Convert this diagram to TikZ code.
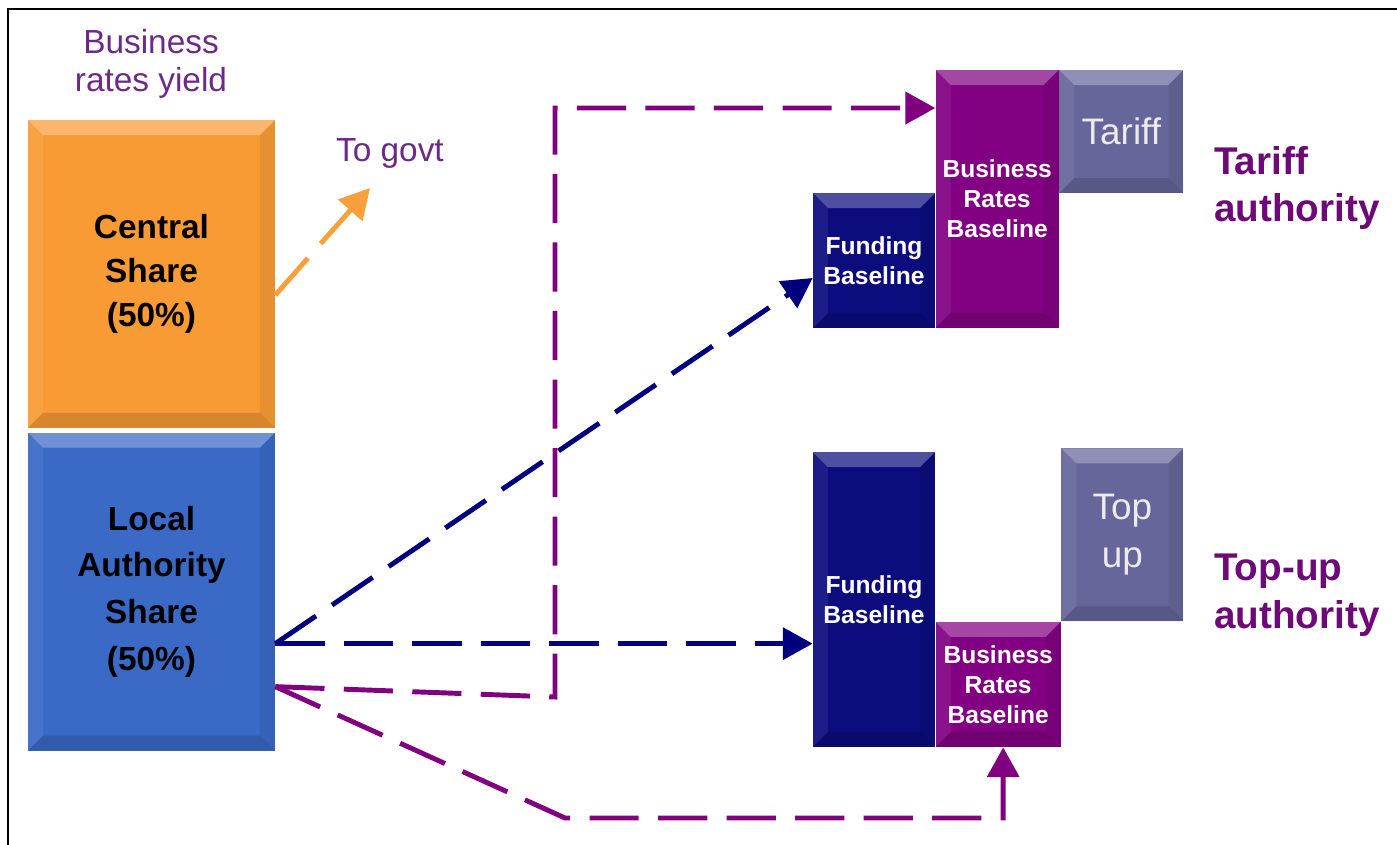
\documentclass[tikz,border=0pt]{standalone}
\usepackage{fontspec}
\setmainfont{Liberation Sans}
\usetikzlibrary{arrows.meta,positioning}

\definecolor{csorange}{HTML}{F99B35}
\definecolor{lablue}{HTML}{3A69C6}
\definecolor{fbnavy}{HTML}{0C0C7E}
\definecolor{brpurple}{HTML}{820082}
\definecolor{tgrey}{HTML}{66669A}
\definecolor{txtpurple}{HTML}{6C2A88}
\definecolor{hdpurple}{HTML}{6E0A78}
\definecolor{arrnavy}{HTML}{00007F}
\definecolor{arrpurple}{HTML}{800080}
\definecolor{arrorange}{HTML}{F9A03C}

\begin{document}
\begin{tikzpicture}[%
    ,x=0.02cm,y={(0cm,-0.02cm)}
    ,>={Triangle[length=17pt,width=18pt]}
    ,bevel/.style = {%
        ,path picture={%
            \coordinate (pnw) at (path picture bounding box.north west);
            \coordinate (pse) at (path picture bounding box.south east);
            \fill[white,opacity=.28] (pnw) -- (pnw-|pse) -- ([shift={(-3mm,-3mm)}]pnw-|pse) -- ([shift={(3mm,-3mm)}]pnw) -- cycle;
            \fill[black,opacity=.13] (pse) -- (pse-|pnw) -- ([shift={(3mm,3mm)}]pse-|pnw) -- ([shift={(-3mm,3mm)}]pse) -- cycle;
            \fill[white,opacity=.07] (pnw) -- ([shift={(3mm,-3mm)}]pnw) -- ([shift={(3mm,3mm)}]pse-|pnw) -- (pse-|pnw) -- cycle;
            \fill[black,opacity=.07] (pnw-|pse) -- ([shift={(-3mm,-3mm)}]pnw-|pse) -- ([shift={(-3mm,3mm)}]pse) -- (pse) -- cycle;
            }
        }
    ,share/.style = {%
        ,bevel
        ,minimum width=4.94cm
        ,inner sep=0pt
        ,align=center
        ,font=\bfseries\fontsize{19}{25}\selectfont
        }
    ,box/.style = {%
        ,bevel
        ,minimum width=2.44cm
        ,inner sep=0pt
        ,align=center
        ,text=white
        ,font=\bfseries\fontsize{14}{17}\selectfont
        }
    ,fb/.style = {box, fill=fbnavy}
    ,br/.style = {box, fill=brpurple}
    ,tt/.style = {box, fill=tgrey, text=white!92!black, font=\fontsize{21}{27}\selectfont}
    ,auth/.style = {anchor=west, align=left, text=hdpurple, font=\bfseries\fontsize{22}{27}\selectfont}
    ,lbl/.style = {align=center, text=txtpurple, font=\fontsize{19}{22}\selectfont}
    ,flow/.style = {->, line width=2.8pt, dash pattern=on 28pt off 11pt}
    ]
\useasboundingbox (0,0) rectangle (1397,845);
\draw[line width=1.3pt] (8,845) -- (8,9) -- (1397,9);

% Business rates yield
\node (bry) [lbl] at (151,64) {Business\\rates yield};
\node (cs) [share, fill=csorange, minimum height=6.16cm] at (151.5,274) {Central\\Share\\(50\%)};
\node (las) [share, fill=lablue, minimum height=6.36cm, font=\bfseries\fontsize{19}{26.5}\selectfont, below=0.08cm of cs] {Local\\Authority\\Share\\(50\%)};
\node (govt) [lbl] at (390,153) {To govt};
\coordinate (govtin) at (370,188);

% Tariff authority
\node (tfb) [fb, minimum height=2.7cm] at (874,260.5) {Funding\\Baseline};
\node (tbr) [br, minimum width=2.46cm, minimum height=5.16cm, above right=0pt and 0pt of tfb.south east] {Business\\Rates\\Baseline};
\node (tar) [tt, minimum width=2.48cm, minimum height=2.46cm, below right=0pt and 0pt of tbr.north east] {Tariff};
\node (ta) [auth] at (1208,188) {Tariff\\authority};

% Top-up authority
\node (ufb) [fb, minimum height=5.9cm] at (874,599.5) {Funding\\Baseline};
\node (ubr) [br, minimum width=2.5cm, minimum height=2.5cm, above right=0pt and 0pt of ufb.south east] {Business\\Rates\\Baseline};
\node (tup) [tt, minimum height=3.46cm, above right=0pt and 0pt of ubr.north east] {Top\\up};
\node (ua) [auth] at (1208,595) {Top-up\\authority};

% Central share to govt
\draw[flow, arrorange] ([yshift=-0.42cm]cs.east) -- (govtin);

% Local share to funding baselines
\coordinate (lo) at ([yshift=-1.04cm]las.east);
\draw[flow, arrnavy] (lo) -- ([yshift=-0.35cm]tfb.west);
\draw[flow, arrnavy] (lo) -- (lo -| ufb.west);

% Local share to business rates baselines
\coordinate (lb) at ([yshift=-1.9cm]las.east);
\draw[flow, arrpurple] (lb) -- (555,697) |- ([yshift=1.82cm]tbr.west);
\draw[flow, arrpurple] (lb) -- (565,818) -| ([xshift=0.1cm]ubr.south);
\end{tikzpicture}
\end{document}
